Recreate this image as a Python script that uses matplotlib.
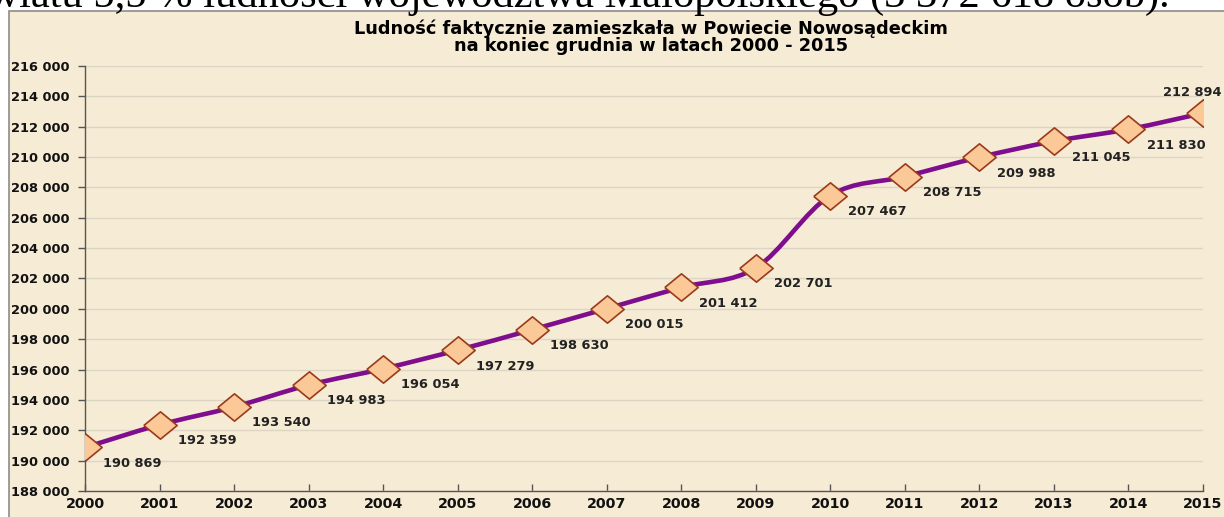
import numpy as np
import matplotlib
matplotlib.use("Agg")
from matplotlib import pyplot as plt
from matplotlib.path import Path
from matplotlib.patches import PathPatch, Rectangle

years = list(range(2000, 2016))
population = [190869, 192359, 193540, 194983, 196054, 197279, 198630, 200015,
              201412, 202701, 207467, 208715, 209988, 211045, 211830, 212894]
y_ticks = list(range(188000, 216001, 2000))

TITLE = "Ludność faktycznie zamieszkała w Powiecie Nowosądeckim\nna koniec grudnia w latach 2000 - 2015"
HEADER = "powiatu 5,5 % ludności województwa Małopolskiego (3 372 618 osób)."

BG = "#F6EBD5"
LINE = "#7E0E8E"
MARKER_FACE = "#FBC897"
MARKER_EDGE = "#9A3A1C"


def fmt(v):
    return "{:,}".format(v).replace(",", " ")


def smooth_path(x, y):
    # Catmull-Rom style bezier, like Excel "smoothed line"
    x = np.asarray(x, float)
    y = np.asarray(y, float)
    verts = [(x[0], y[0])]
    codes = [Path.MOVETO]
    n = len(x)
    for i in range(n - 1):
        x0, y0 = (x[i - 1], y[i - 1]) if i > 0 else (x[i], y[i])
        x3, y3 = (x[i + 2], y[i + 2]) if i + 2 < n else (x[i + 1], y[i + 1])
        c1 = (x[i] + (x[i + 1] - x0) / 6, y[i] + (y[i + 1] - y0) / 6)
        c2 = (x[i + 1] - (x3 - x[i]) / 6, y[i + 1] - (y3 - y[i]) / 6)
        verts += [c1, c2, (x[i + 1], y[i + 1])]
        codes += [Path.CURVE4] * 3
    return Path(verts, codes)


plt.rcParams["font.family"] = ["DejaVu Sans"]

fig = plt.figure(figsize=(12.24, 5.17), dpi=100)
fig.patch.set_facecolor("white")

# chart frame
fig.patches.append(Rectangle((9 / 1224, -0.01), 1.02, (517 - 11) / 517 + 0.01,
                             transform=fig.transFigure, facecolor=BG,
                             edgecolor="#8C8C8C", lw=1.2, zorder=-10))

# cropped line of document text above the chart
fig.text(1170 / 1224, 1 - 7 / 517, HEADER, ha="right", va="baseline",
         family="Liberation Serif", fontsize=30.6, color="black", zorder=-5)

ax = fig.add_axes([85 / 1224, (517 - 491) / 517, (1203 - 85) / 1224, (491 - 66) / 517])
ax.set_facecolor("none")

ax.add_patch(PathPatch(smooth_path(years, population), facecolor="none",
                       edgecolor=LINE, lw=3.3, zorder=3, capstyle="round"))

diamond = [(-1, 0), (0, 0.82), (1, 0), (0, -0.82), (-1, 0)]
ax.plot(years, population, linestyle="none", marker=diamond, markersize=24,
        markerfacecolor=MARKER_FACE, markeredgecolor=MARKER_EDGE,
        markeredgewidth=1.2, zorder=4)

for i, (yr, v) in enumerate(zip(years, population)):
    if i == len(years) - 1:
        ax.annotate(fmt(v), (yr, v), xytext=(-8, 15), textcoords="offset points",
                    ha="center", va="center", fontsize=9.4, fontweight="bold",
                    color="#222222", zorder=5)
    else:
        ax.annotate(fmt(v), (yr, v), xytext=(13, -11.5), textcoords="offset points",
                    ha="left", va="center", fontsize=9.4, fontweight="bold",
                    color="#222222", zorder=5)

ax.set_xlim(years[0], years[-1])
ax.set_ylim(y_ticks[0], y_ticks[-1])
ax.set_xticks(years)
ax.set_yticks(y_ticks)
ax.set_yticklabels([fmt(t) for t in y_ticks])
ax.tick_params(axis="x", direction="in", length=5, width=1, color="#555555",
               labelsize=10.3, pad=4)
ax.tick_params(axis="y", direction="out", length=5, width=1, color="#555555",
               labelsize=9.4, pad=6)
for lab in ax.get_xticklabels() + ax.get_yticklabels():
    lab.set_fontweight("bold")
    lab.set_color("#111111")

ax.grid(axis="y", color="#DDD5C4", lw=1)
ax.set_axisbelow(True)
for s in ["top", "right"]:
    ax.spines[s].set_visible(False)
for s in ["left", "bottom"]:
    ax.spines[s].set_color("#555555")
    ax.spines[s].set_linewidth(1)

fig.text(651 / 1224, 1 - 19 / 517, TITLE, ha="center", va="top",
         fontsize=12.8, fontweight="bold", color="black", linespacing=0.95)

fig.savefig("out.png", dpi=100, facecolor=fig.get_facecolor())
